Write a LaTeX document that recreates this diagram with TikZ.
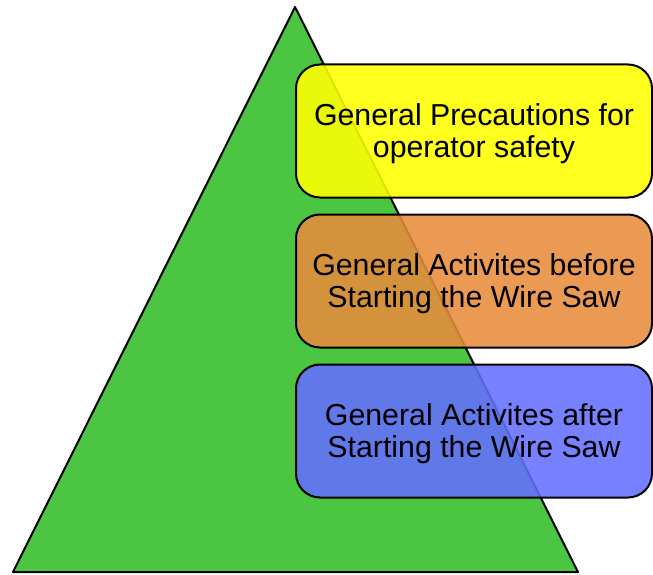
\documentclass[tikz,border=0pt]{standalone}
\usepackage{fontspec}
\setmainfont{Liberation Sans}
\usetikzlibrary{positioning}

\definecolor{pyrgreen}{RGB}{76,197,66}
\definecolor{boxyellow}{RGB}{255,255,0}
\definecolor{boxorange}{RGB}{232,140,60}
\definecolor{boxblue}{RGB}{100,110,255}

\begin{document}
\begin{tikzpicture}[
    x=1pt, y=-1pt, % pixel-like units, y pointing down
    pyramid/.style={draw=black, line width=2pt, line join=round, fill=pyrgreen}, % the triangle
    stepbox/.style={draw=black, line width=2pt, rounded corners=24pt,
     fill opacity=0.88, text opacity=1, minimum width=356pt, minimum height=133pt,
     text depth=0pt, align=center, font=\fontsize{30.3}{32}\selectfont}, % the three boxes
]

    % Fix the frame
    \useasboundingbox (0,0) rectangle (653,575);

    % Corners of the pyramid
    \coordinate (apex) at (295,7);
    \coordinate (baseL) at (13,572);
    \coordinate (baseR) at (578,572);

    % Draw the pyramid
    \draw[pyramid] (apex) -- (baseR) -- (baseL) -- cycle;

    % Boxes, top to bottom
    \node[stepbox, fill=boxyellow] (safety) at (474,131) {General Precautions for\\operator safety};
    \node[stepbox, fill=boxorange, below=15pt of safety] (before) {General Activites before\\Starting the Wire Saw};
    \node[stepbox, fill=boxblue, below=15pt of before] (after) {General Activites after\\Starting the Wire Saw};

\end{tikzpicture}
\end{document}
